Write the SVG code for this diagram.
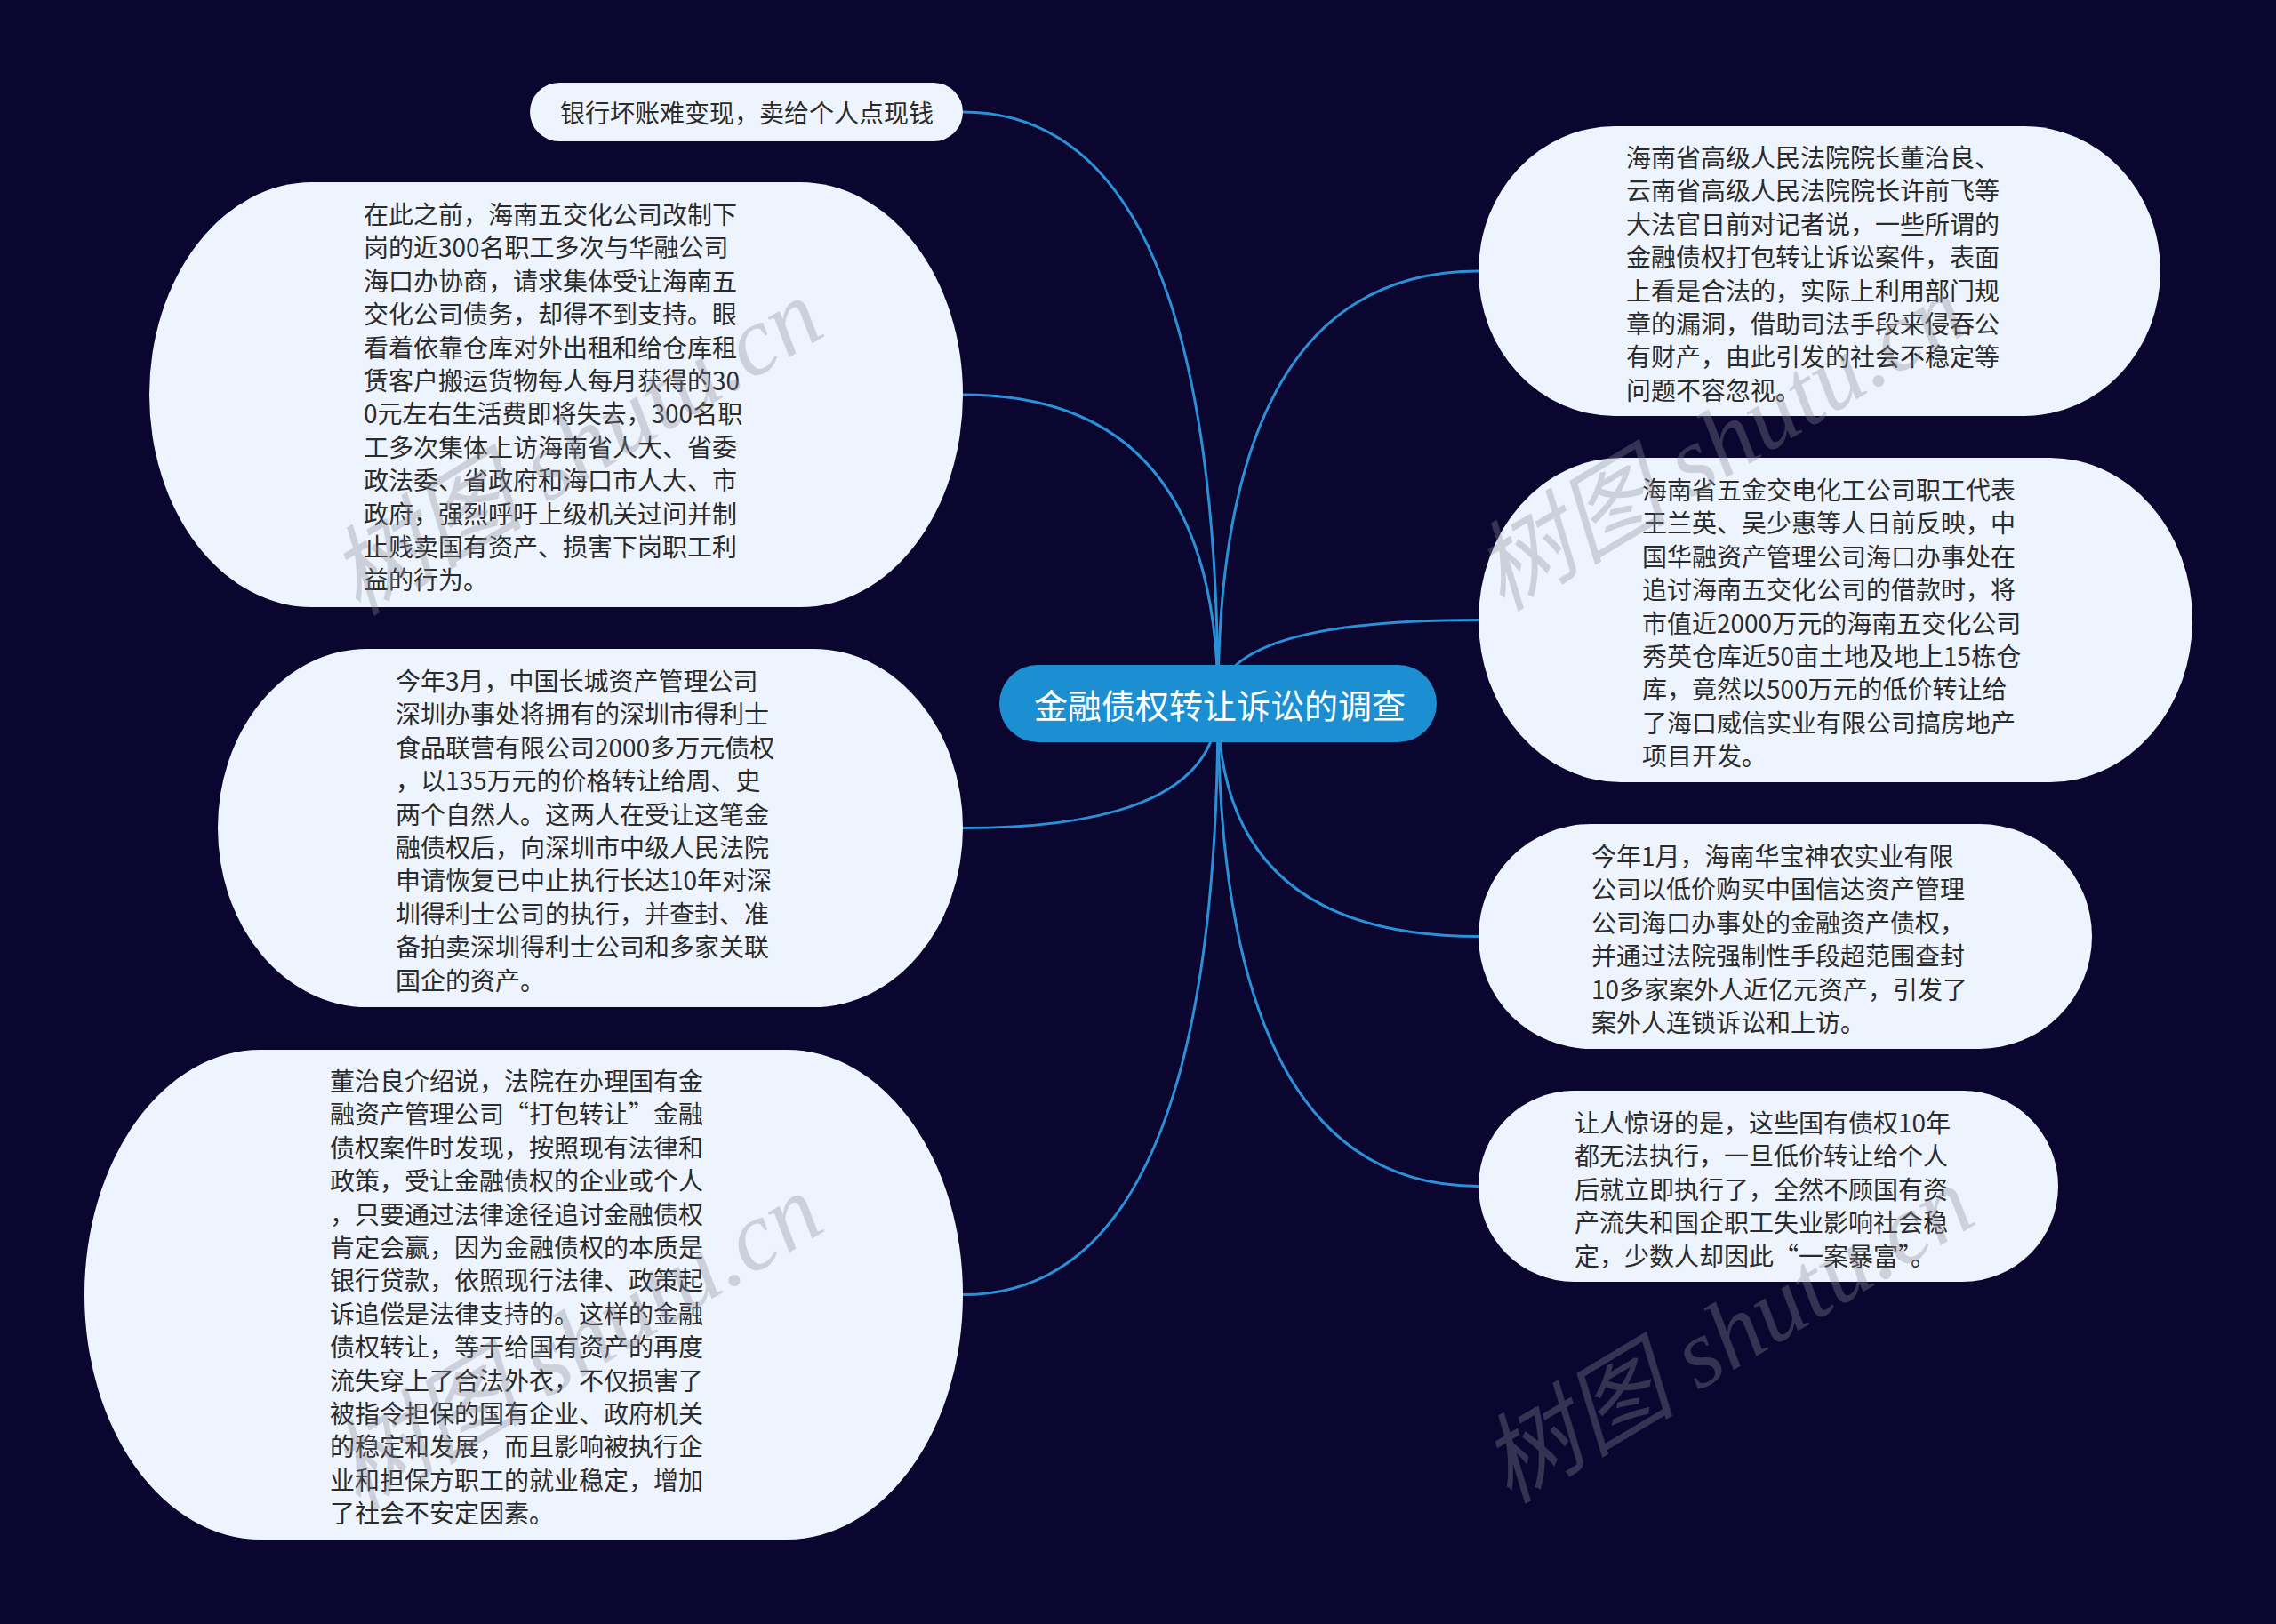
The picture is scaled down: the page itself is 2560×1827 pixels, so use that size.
<svg xmlns="http://www.w3.org/2000/svg" width="2560" height="1827" viewBox="0 0 2560 1827">
<style>
.bg{fill:#0a0630}
.node{fill:#eef4fd}
.root{fill:#1b8fd1}
.link{fill:none;stroke:#2a90d8;stroke-width:3}
.t{font-family:"Noto Sans CJK SC","Liberation Sans",sans-serif;font-size:28px;fill:#2b2b2b;dominant-baseline:central}
.rt{font-family:"Noto Sans CJK SC","Liberation Sans",sans-serif;font-size:38px;fill:#ffffff;dominant-baseline:central;text-anchor:middle}
.wm{font-family:"Liberation Serif","Noto Sans CJK SC",serif;font-size:110px;font-style:italic;fill:#8a8a96;fill-opacity:0.34;text-anchor:middle;dominant-baseline:central}
</style>
<rect class="bg" x="0" y="0" width="2560" height="1827"/>
<g id="connectors">
<path class="link" d="M1370,791 Q1370,126 1083,126"/>
<path class="link" d="M1370,791 Q1370,444 1083,444"/>
<path class="link" d="M1370,791 Q1370,931.5 1083,931.5"/>
<path class="link" d="M1370,791 Q1370,1456.5 1083,1456.5"/>
<path class="link" d="M1370,791 Q1370,305 1663,305"/>
<path class="link" d="M1370,791 Q1370,697.5 1663,697.5"/>
<path class="link" d="M1370,791 Q1370,1053.5 1663,1053.5"/>
<path class="link" d="M1370,791 Q1370,1334.5 1663,1334.5"/>
</g>
<g id="root">
<rect class="root" x="1124" y="748" width="492" height="87" rx="43.5" ry="43.5"/>
<text class="rt" x="1372" y="791">金融债权转让诉讼的调查</text>
</g>
<g id="node1">
<rect class="node" x="596" y="93" width="487" height="66" rx="33" ry="33"/>
<text class="t" x="840" y="126" text-anchor="middle">银行坏账难变现，卖给个人点现钱</text>
</g>
<g id="node2">
<rect class="node" x="168" y="205" width="915" height="478" rx="183" ry="239"/>
<text class="t" x="409">
<tspan x="409" y="240">在此之前，海南五交化公司改制下</tspan>
<tspan x="409" y="277.4">岗的近300名职工多次与华融公司</tspan>
<tspan x="409" y="314.8">海口办协商，请求集体受让海南五</tspan>
<tspan x="409" y="352.2">交化公司债务，却得不到支持。眼</tspan>
<tspan x="409" y="389.6">看着依靠仓库对外出租和给仓库租</tspan>
<tspan x="409" y="427">赁客户搬运货物每人每月获得的30</tspan>
<tspan x="409" y="464.4">0元左右生活费即将失去，300名职</tspan>
<tspan x="409" y="501.8">工多次集体上访海南省人大、省委</tspan>
<tspan x="409" y="539.2">政法委、省政府和海口市人大、市</tspan>
<tspan x="409" y="576.6">政府，强烈呼吁上级机关过问并制</tspan>
<tspan x="409" y="614">止贱卖国有资产、损害下岗职工利</tspan>
<tspan x="409" y="651.4">益的行为。</tspan>
</text>
</g>
<g id="node3">
<rect class="node" x="245" y="730" width="838" height="403" rx="168" ry="201.5"/>
<text class="t" x="445">
<tspan x="445" y="765">今年3月，中国长城资产管理公司</tspan>
<tspan x="445" y="802.4">深圳办事处将拥有的深圳市得利士</tspan>
<tspan x="445" y="839.8">食品联营有限公司2000多万元债权</tspan>
<tspan x="445" y="877.2">，以135万元的价格转让给周、史</tspan>
<tspan x="445" y="914.6">两个自然人。这两人在受让这笔金</tspan>
<tspan x="445" y="952">融债权后，向深圳市中级人民法院</tspan>
<tspan x="445" y="989.4">申请恢复已中止执行长达10年对深</tspan>
<tspan x="445" y="1026.8">圳得利士公司的执行，并查封、准</tspan>
<tspan x="445" y="1064.2">备拍卖深圳得利士公司和多家关联</tspan>
<tspan x="445" y="1101.6">国企的资产。</tspan>
</text>
</g>
<g id="node4">
<rect class="node" x="95" y="1181" width="988" height="551" rx="198" ry="275.5"/>
<text class="t" x="371">
<tspan x="371" y="1215">董治良介绍说，法院在办理国有金</tspan>
<tspan x="371" y="1252.4">融资产管理公司“打包转让”金融</tspan>
<tspan x="371" y="1289.8">债权案件时发现，按照现有法律和</tspan>
<tspan x="371" y="1327.2">政策，受让金融债权的企业或个人</tspan>
<tspan x="371" y="1364.6">，只要通过法律途径追讨金融债权</tspan>
<tspan x="371" y="1402">肯定会赢，因为金融债权的本质是</tspan>
<tspan x="371" y="1439.4">银行贷款，依照现行法律、政策起</tspan>
<tspan x="371" y="1476.8">诉追偿是法律支持的。这样的金融</tspan>
<tspan x="371" y="1514.2">债权转让，等于给国有资产的再度</tspan>
<tspan x="371" y="1551.6">流失穿上了合法外衣，不仅损害了</tspan>
<tspan x="371" y="1589">被指令担保的国有企业、政府机关</tspan>
<tspan x="371" y="1626.4">的稳定和发展，而且影响被执行企</tspan>
<tspan x="371" y="1663.8">业和担保方职工的就业稳定，增加</tspan>
<tspan x="371" y="1701.2">了社会不安定因素。</tspan>
</text>
</g>
<g id="node5">
<rect class="node" x="1663" y="142" width="767" height="326" rx="153" ry="163"/>
<text class="t" x="1829">
<tspan x="1829" y="176">海南省高级人民法院院长董治良、</tspan>
<tspan x="1829" y="213.4">云南省高级人民法院院长许前飞等</tspan>
<tspan x="1829" y="250.8">大法官日前对记者说，一些所谓的</tspan>
<tspan x="1829" y="288.2">金融债权打包转让诉讼案件，表面</tspan>
<tspan x="1829" y="325.6">上看是合法的，实际上利用部门规</tspan>
<tspan x="1829" y="363">章的漏洞，借助司法手段来侵吞公</tspan>
<tspan x="1829" y="400.4">有财产，由此引发的社会不稳定等</tspan>
<tspan x="1829" y="437.8">问题不容忽视。</tspan>
</text>
</g>
<g id="node6">
<rect class="node" x="1663" y="515" width="803" height="365" rx="160" ry="182.5"/>
<text class="t" x="1847">
<tspan x="1847" y="550">海南省五金交电化工公司职工代表</tspan>
<tspan x="1847" y="587.4">王兰英、吴少惠等人日前反映，中</tspan>
<tspan x="1847" y="624.8">国华融资产管理公司海口办事处在</tspan>
<tspan x="1847" y="662.2">追讨海南五交化公司的借款时，将</tspan>
<tspan x="1847" y="699.6">市值近2000万元的海南五交化公司</tspan>
<tspan x="1847" y="737">秀英仓库近50亩土地及地上15栋仓</tspan>
<tspan x="1847" y="774.4">库，竟然以500万元的低价转让给</tspan>
<tspan x="1847" y="811.8">了海口威信实业有限公司搞房地产</tspan>
<tspan x="1847" y="849.2">项目开发。</tspan>
</text>
</g>
<g id="node7">
<rect class="node" x="1663" y="927" width="690" height="253" rx="126.5" ry="126.5"/>
<text class="t" x="1790">
<tspan x="1790" y="962">今年1月，海南华宝神农实业有限</tspan>
<tspan x="1790" y="999.4">公司以低价购买中国信达资产管理</tspan>
<tspan x="1790" y="1036.8">公司海口办事处的金融资产债权，</tspan>
<tspan x="1790" y="1074.2">并通过法院强制性手段超范围查封</tspan>
<tspan x="1790" y="1111.6">10多家案外人近亿元资产，引发了</tspan>
<tspan x="1790" y="1149">案外人连锁诉讼和上访。</tspan>
</text>
</g>
<g id="node8">
<rect class="node" x="1663" y="1227" width="652" height="215" rx="107.5" ry="107.5"/>
<text class="t" x="1771">
<tspan x="1771" y="1262">让人惊讶的是，这些国有债权10年</tspan>
<tspan x="1771" y="1299.4">都无法执行，一旦低价转让给个人</tspan>
<tspan x="1771" y="1336.8">后就立即执行了，全然不顾国有资</tspan>
<tspan x="1771" y="1374.2">产流失和国企职工失业影响社会稳</tspan>
<tspan x="1771" y="1411.6">定，少数人却因此“一案暴富”。</tspan>
</text>
</g>
<g id="watermarks">
<text class="wm" transform="translate(648,503) rotate(-31)">树图 shutu.cn</text>
<text class="wm" transform="translate(648,1510) rotate(-31)">树图 shutu.cn</text>
<text class="wm" transform="translate(1935,498) rotate(-31)">树图 shutu.cn</text>
<text class="wm" transform="translate(1943,1502) rotate(-31)">树图 shutu.cn</text>
</g>
</svg>
